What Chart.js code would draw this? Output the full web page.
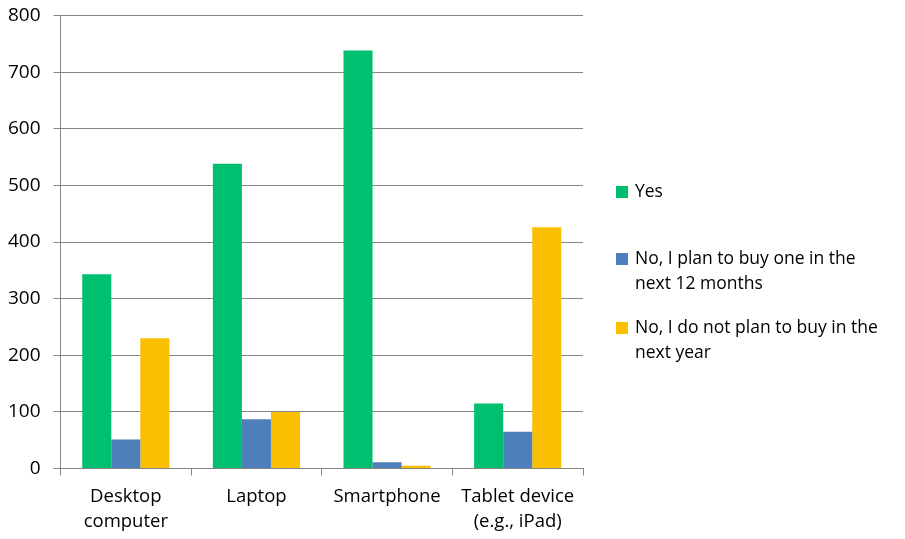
<!DOCTYPE html>
<html>
<head>
<meta charset="utf-8">
<script src="https://cdn.jsdelivr.net/npm/chart.js@4"></script>
<style>
  html, body { margin: 0; padding: 0; background: #fff; }
  #wrap { position: relative; width: 905px; height: 539px; }
  #legend { position: absolute; left: 616px; top: 0; font-family: "Open Sans", sans-serif; font-size: 17.5px; color: #000; }
  .item { position: absolute; left: 0; width: 250px; line-height: 25px; padding-left: 19px; }
  .box { position: absolute; left: 0; top: 8px; width: 12px; height: 12px; }
</style>
</head>
<body>
<div id="wrap">
  <canvas id="chart" width="905" height="539"></canvas>
  <div id="legend"></div>
</div>
<script>
const categories = [['Desktop', 'computer'], 'Laptop', 'Smartphone', ['Tablet device', '(e.g., iPad)']];
const seriesNames = ['Yes', 'No, I plan to buy one in the next 12 months', 'No, I do not plan to buy in the next year'];
const yesValues = [343, 538, 738, 115];
const planValues = [51, 87, 11, 65];
const noPlanValues = [230, 100, 5, 426];
const colors = ['#00BF6F', '#4F7FBB', '#F9BF00'];
const legendTops = [178, 245, 314];

const yFont = { family: '"Open Sans", sans-serif', size: 19 };
const xFont = { family: '"Open Sans", sans-serif', size: 18.5, lineHeight: 1.35 };

const chart = new Chart(document.getElementById('chart'), {
    type: 'bar',
    data: {
        labels: categories,
        datasets: [
            { label: seriesNames[0], data: yesValues, backgroundColor: colors[0] },
            { label: seriesNames[1], data: planValues, backgroundColor: colors[1] },
            { label: seriesNames[2], data: noPlanValues, backgroundColor: colors[2] }
        ]
    },
    options: {
        responsive: false,
        animation: false,
        layout: { padding: { top: 15.5, right: 322, left: 7, bottom: 0 } },
        datasets: { bar: { categoryPercentage: 0.667, barPercentage: 1 } },
        plugins: { legend: { display: false }, tooltip: { enabled: false } },
        scales: {
            x: {
                afterFit: scale => { scale.height = 70.5; scale.paddingLeft = 0; scale.paddingRight = 0; },
                grid: { offset: true, drawOnChartArea: false, color: '#868686', tickLength: 7 },
                border: { color: '#868686' },
                ticks: { font: xFont, color: '#000', padding: 9, maxRotation: 0 }
            },
            y: {
                min: 0, max: 800,
                afterFit: scale => { scale.width = 53.5; scale.paddingTop = 0; scale.paddingBottom = 0; },
                grid: { color: '#868686', tickLength: 7 },
                border: { color: '#868686' },
                ticks: { stepSize: 100, font: yFont, color: '#000', padding: 13 }
            }
        }
    }
});

// leyenda a la derecha, texto en dos lineas
const legend = document.getElementById('legend');
chart.data.datasets.forEach((ds, i) => {
    const item = document.createElement('div');
    item.className = 'item';
    item.style.top = legendTops[i] + 'px';
    item.innerHTML = '<span class="box" style="background:' + ds.backgroundColor + '"></span>' + ds.label;
    legend.appendChild(item);
});
</script>
</body>
</html>
